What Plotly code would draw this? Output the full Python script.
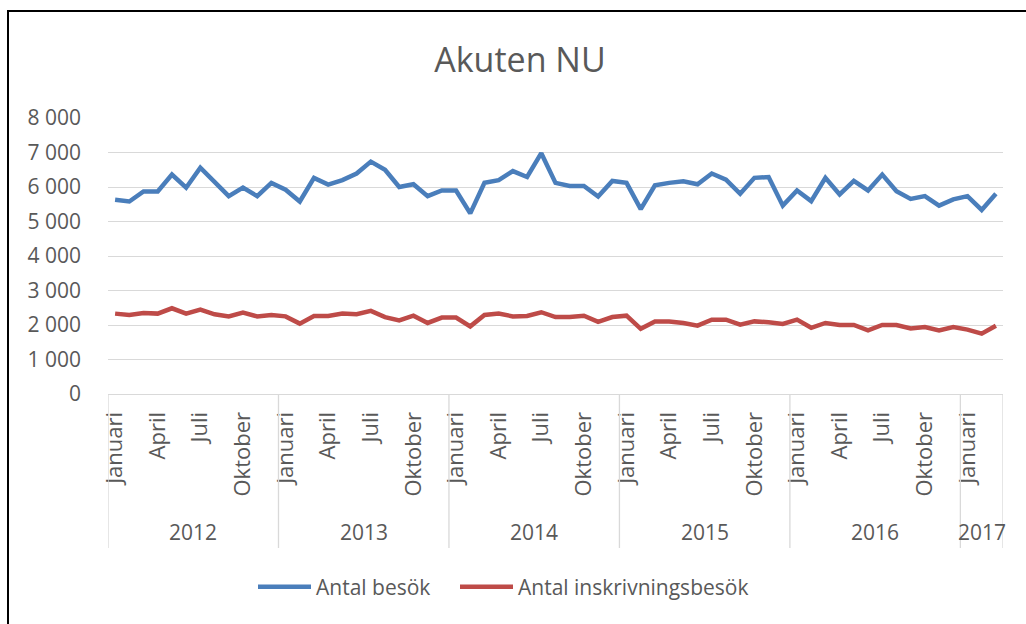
import plotly.graph_objects as go

month_names = ["Januari", "Februari", "Mars", "April", "Maj", "Juni", "Juli",
               "Augusti", "September", "Oktober", "November", "December"]
years = [2012, 2013, 2014, 2015, 2016, 2017]
n_months = 63  # Jan 2012 .. Mar 2017

antal_besok = [
    5630, 5580, 5870, 5870, 6360, 5980, 6560, 6150, 5735, 5980, 5735, 6120,
    5920, 5580, 6265, 6070, 6200, 6390, 6735, 6500, 6000, 6080, 5735, 5900,
    5900, 5235, 6120, 6200, 6460, 6290, 6980, 6120, 6030, 6030, 5725, 6175,
    6120, 5360, 6050, 6120, 6165, 6080, 6390, 6215, 5805, 6265, 6290, 5460,
    5900, 5590, 6265, 5785, 6175, 5900, 6360, 5880, 5655, 5735, 5460, 5640,
    5735, 5335, 5805,
]
antal_inskrivning = [
    2330, 2290, 2350, 2330, 2485, 2330, 2445, 2310, 2250, 2360, 2250, 2290,
    2250, 2040, 2260, 2260, 2330, 2310, 2410, 2230, 2135, 2270, 2060, 2215,
    2215, 1960, 2290, 2330, 2250, 2260, 2370, 2230, 2230, 2270, 2090, 2230,
    2270, 1890, 2100, 2100, 2060, 1980, 2155, 2155, 2010, 2105, 2080, 2030,
    2155, 1920, 2060, 2000, 2000, 1845, 2000, 2000, 1900, 1940, 1845, 1940,
    1865, 1750, 1980,
]

x_idx = list(range(n_months))
tick_vals = [i for i in x_idx if i % 3 == 0]
tick_text = [month_names[i % 12] for i in tick_vals]

GRAY = "#595959"
GRID = "#d9d9d9"
FONT = "Open Sans"

fig = go.Figure()
fig.add_trace(go.Scatter(x=x_idx, y=antal_besok, mode="lines", name="Antal besök",
                         line=dict(color="#4a7ebb", width=4.5), legend="legend"))
fig.add_trace(go.Scatter(x=x_idx, y=antal_inskrivning, mode="lines",
                         name="Antal inskrivningsbesök",
                         line=dict(color="#be4b48", width=4.5), legend="legend2"))

# plot area in pixels: x 108..1003, y 118..394
L, R, T, B = 108, 1003, 118, 394
W, H = R - L, B - T

def py(p):
    return (B - p) / H

def px(p):
    return (p - L) / W

shapes = []
for k in range(len(years) + 1):
    xb = min(-0.5 + 12 * k, n_months - 0.5)
    shapes.append(dict(type="line", xref="x", yref="paper", x0=xb, x1=xb,
                       y0=0, y1=py(548), line=dict(color=GRID, width=1.3)))
# outer frame
shapes.append(dict(type="rect", xref="paper", yref="paper",
                   x0=px(8), x1=px(1040), y0=py(11), y1=py(640),
                   line=dict(color="black", width=2), layer="below"))

annotations = []
for k, yr in enumerate(years):
    start = 12 * k
    end = min(12 * k + 11, n_months - 1)
    annotations.append(dict(x=(start + end) / 2, y=py(532), xref="x", yref="paper",
                            text=str(yr), showarrow=False, yanchor="middle",
                            xanchor="center",
                            font=dict(family=FONT, size=21, color=GRAY)))

legend_font = dict(family=FONT, size=21, color=GRAY)

fig.update_layout(
    width=1026, height=624,
    margin=dict(l=L, r=1026 - R, t=T, b=624 - B, autoexpand=False),
    paper_bgcolor="white", plot_bgcolor="white",
    separators=", ",
    title=dict(text="Akuten NU", x=520 / 1026, xanchor="center", y=1 - 60 / 624,
               yanchor="middle", font=dict(family=FONT, size=34, color=GRAY)),
    showlegend=True,
    legend=dict(orientation="h", x=px(253), xanchor="left", y=py(587),
                yanchor="middle", font=legend_font, itemwidth=53),
    legend2=dict(orientation="h", x=px(455), xanchor="left", y=py(587),
                 yanchor="middle", font=legend_font, itemwidth=53),
    shapes=shapes,
    annotations=annotations,
    xaxis=dict(range=[-0.5, n_months - 0.5], tickvals=tick_vals, ticktext=tick_text,
               tickangle=-90, tickfont=dict(family=FONT, size=22, color=GRAY),
               showgrid=False, zeroline=False, showline=True, linecolor=GRID,
               linewidth=1.3, ticks="", ticklabelstandoff=8, fixedrange=True),
    yaxis=dict(range=[0, 8000], dtick=1000, tickformat=",d",
               tickfont=dict(family=FONT, size=21, color=GRAY),
               showgrid=True, gridcolor=GRID, gridwidth=1.3, zeroline=False,
               showline=False, ticks="", ticklabelstandoff=26, fixedrange=True),
)

fig.write_html("out.html", config={"displayModeBar": False},
               post_script="document.body.style.margin='0';document.body.style.padding='0';")
